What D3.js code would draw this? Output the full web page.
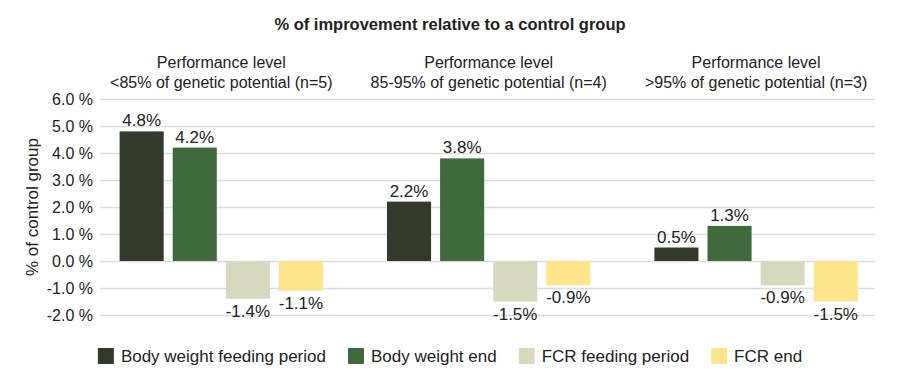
<!DOCTYPE html>
<html>
<head>
<meta charset="utf-8">
<script src="https://cdn.jsdelivr.net/npm/d3@7"></script>
<style>
  body { margin: 0; background: #fff; }
  svg text { font-family: "Liberation Sans", Arial, Helvetica, sans-serif; fill: #222; }
</style>
</head>
<body>
<script>
// data
var groups = ["Performance level\n<85% of genetic potential (n=5)",
              "Performance level\n85-95% of genetic potential (n=4)",
              "Performance level\n>95% of genetic potential (n=3)"];
var series = ["Body weight feeding period", "Body weight end", "FCR feeding period", "FCR end"];
var bwFeeding = [4.8, 2.2, 0.5];
var bwEnd = [4.2, 3.8, 1.3];
var fcrFeeding = [-1.4, -1.5, -0.9];
var fcrEnd = [-1.1, -0.9, -1.5];
var yTicks = [-2, -1, 0, 1, 2, 3, 4, 5, 6];
var colors = ["#323a2a", "#3f6a3e", "#d6d9bf", "#fde58b"];

var width = 900, height = 385;
var values = [bwFeeding, bwEnd, fcrFeeding, fcrEnd];

var svg = d3.select("body").append("svg")
    .attr("width", width)
    .attr("height", height);

// scales
var x0 = d3.scaleBand().domain(d3.range(groups.length)).range([87.6, 889.8]);
var x1 = d3.scaleBand().domain(d3.range(series.length))
    .range([32, x0.bandwidth() - 32]).paddingInner(0.17);
var y = d3.scaleLinear().domain([-2, 6]).range([315, 99]);

// grid + y axis
var yAxis = svg.append("g")
    .attr("transform", "translate(100,0)")
    .call(d3.axisLeft(y).tickValues(yTicks)
        .tickSize(-775).tickPadding(7)
        .tickFormat(d => d.toFixed(1) + " %"));
yAxis.select(".domain").remove();
yAxis.selectAll(".tick line").attr("stroke", "#dcdcdc").attr("stroke-width", 1.5);
yAxis.selectAll(".tick text").style("font-size", "16px").attr("fill", "#222");

svg.append("text")
    .attr("transform", "translate(32," + y(2) + ") rotate(-90)")
    .attr("text-anchor", "middle")
    .attr("dy", "0.35em")
    .style("font-size", "17px")
    .text("% of control group");

// title
svg.append("text")
    .attr("x", 450).attr("y", 30)
    .attr("text-anchor", "middle")
    .style("font-size", "16.5px")
    .style("font-weight", "bold")
    .text("% of improvement relative to a control group");

// group labels
groups.forEach(function(g, i) {
    var t = svg.append("text")
        .attr("text-anchor", "middle")
        .style("font-size", "16px");
    g.split("\n").forEach(function(line, j) {
        t.append("tspan")
            .attr("x", x0(i) + x0.bandwidth() / 2)
            .attr("y", 68 + j * 19.5)
            .text(line);
    });
});

// bars
var gs = svg.selectAll(".grp").data(groups).enter().append("g")
    .attr("class", "grp")
    .attr("transform", (d, i) => "translate(" + x0(i) + ",0)");

gs.each(function(g, gi) {
    var data = values.map((v, si) => ({s: si, v: v[gi]}));
    var sel = d3.select(this);
    sel.selectAll("rect").data(data).enter().append("rect")
        .attr("x", d => x1(d.s))
        .attr("width", x1.bandwidth())
        .attr("y", d => y(Math.max(0, d.v)))
        .attr("height", d => Math.abs(y(d.v) - y(0)))
        .attr("fill", d => colors[d.s]);
    sel.selectAll("text.val").data(data).enter().append("text")
        .attr("class", "val")
        .attr("text-anchor", "middle")
        .attr("x", d => x1(d.s) + x1.bandwidth() / 2)
        .attr("y", d => d.v >= 0 ? y(d.v) - 5 : y(d.v) + 18)
        .style("font-size", "17px")
        .text(d => d.v.toFixed(1) + "%");
});

// legend
var leg = svg.append("g").attr("transform", "translate(0,348)");
var lx = 0;
var items = leg.selectAll("g").data(series).enter().append("g");
items.append("rect").attr("width", 16).attr("height", 16).attr("fill", (d, i) => colors[i]);
items.append("text").attr("x", 23).attr("y", 13.5).style("font-size", "17px").text(d => d);
items.each(function() {
    var w = 23 + d3.select(this).select("text").node().getComputedTextLength();
    d3.select(this).attr("transform", "translate(" + lx + ",0)");
    lx += w + 22;
});
leg.attr("transform", "translate(" + (450 - (lx - 22) / 2) + ",348)");
</script>
</body>
</html>
